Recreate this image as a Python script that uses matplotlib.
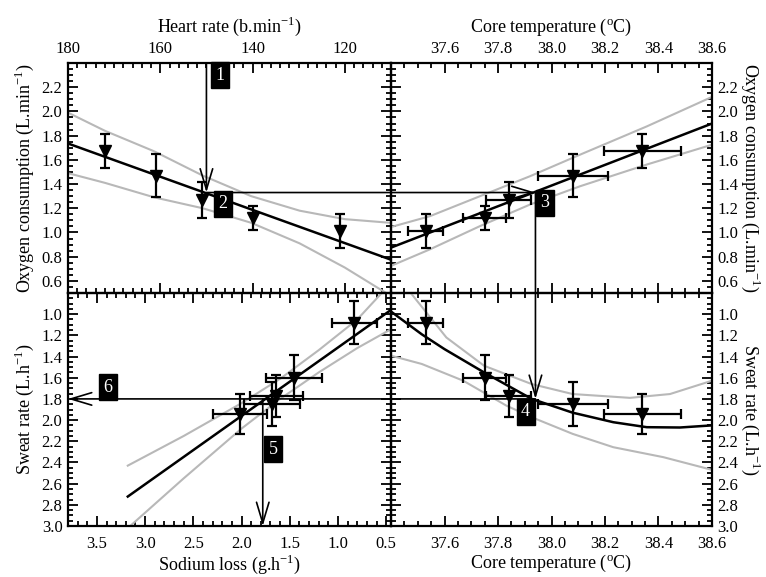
import matplotlib
matplotlib.use("Agg")
import matplotlib.pyplot as plt
from matplotlib.ticker import FixedLocator, MultipleLocator, FormatStrFormatter
from matplotlib.patches import ConnectionPatch

plt.rcParams['font.family'] = ['Liberation Serif', 'DejaVu Serif']
plt.rcParams['mathtext.fontset'] = 'custom'
plt.rcParams['mathtext.rm'] = 'Liberation Serif'

# group means (5 exercise levels)
heart_rate = [121, 140, 151, 161, 172]
vo2 = [1.01, 1.12, 1.27, 1.47, 1.67]
vo2_err = [0.14, 0.10, 0.15, 0.18, 0.14]
core_temp = [37.53, 37.75, 37.84, 38.08, 38.34]
core_temp_err = [0.065, 0.08, 0.085, 0.13, 0.145]
sweat_rate = [1.08, 1.60, 1.77, 1.85, 1.94]
sweat_err = [0.20, 0.21, 0.20, 0.21, 0.19]
sodium_loss = [0.83, 1.46, 1.64, 1.68, 2.02]
sodium_err = [0.23, 0.29, 0.275, 0.29, 0.28]

# fitted lines and confidence bands
hr_fit_x = [180, 110]
hr_fit_y = [1.735, 0.775]
hr_band_x = [180, 172, 161.3, 150.8, 140.3, 129.8, 120, 110.2]
hr_band_hi = [1.99, 1.84, 1.67, 1.47, 1.30, 1.18, 1.11, 1.08]
hr_band_lo = [1.49, 1.41, 1.29, 1.20, 1.08, 0.91, 0.71, 0.48]

tc_fit_x = [37.4, 38.6]
tc_fit_y = [0.875, 1.90]
tc_band_x = [37.4, 37.546, 37.733, 37.92, 38.107, 38.356, 38.6]
tc_band_hi = [1.045, 1.135, 1.30, 1.465, 1.643, 1.876, 2.12]
tc_band_lo = [0.724, 0.861, 1.053, 1.231, 1.382, 1.561, 1.725]

na_fit_x = [3.18, 0.46]
na_fit_y = [2.722, 0.966]
na_band_x = [3.18, 2.6, 2.0, 1.6, 1.2, 0.8, 0.546]
na_band_hi = [2.43, 2.15, 1.84, 1.61, 1.34, 1.05, 0.80]
na_band_x2 = [3.155, 2.6, 2.0, 1.6, 1.2, 0.8, 0.46]
na_band_lo = [3.0, 2.55, 2.08, 1.80, 1.55, 1.32, 1.147]

sw_fit_x = [37.4, 37.515, 37.6, 37.748, 37.926, 38.079, 38.231, 38.356, 38.48, 38.6]
sw_fit_y = [0.975, 1.19, 1.33, 1.55, 1.80, 1.93, 2.02, 2.067, 2.07, 2.05]
sw_band_x = [37.477, 37.607, 37.748, 37.926, 38.079, 38.293, 38.443, 38.6]
sw_band_hi = [0.81, 1.22, 1.487, 1.66, 1.754, 1.79, 1.754, 1.628]
sw_band_x2 = [37.4, 37.515, 37.67, 37.831, 37.926, 38.079, 38.231, 38.418, 38.6]
sw_band_lo = [1.392, 1.47, 1.628, 1.863, 1.973, 2.13, 2.256, 2.35, 2.47]

# worked example path
hr_read = 150
vo2_read = 1.33
tc_read = 37.94
sw_read = 1.80
na_read = 1.78

fig = plt.figure(figsize=(7.66, 5.77), dpi=100)
L, R, B, T = 68 / 766, 712 / 766, 1 - 526 / 577, 1 - 63 / 577
MX, MY = 391 / 766, 1 - 293 / 577
ax_tl = fig.add_axes([L, MY, MX - L, T - MY])
ax_tr = fig.add_axes([MX, MY, R - MX, T - MY])
ax_bl = fig.add_axes([L, B, MX - L, MY - B])
ax_br = fig.add_axes([MX, B, R - MX, MY - B])

grey = '#b8b8b8'
lab = 13


def style(ax):
    ax.tick_params(which='both', direction='in', top=True, bottom=True,
                   left=True, right=True, width=1.3, labelsize=12, pad=4)
    ax.tick_params(which='major', length=7)
    ax.tick_params(which='minor', length=3.5)
    for s in ax.spines.values():
        s.set_linewidth(1.6)
    ax.yaxis.set_major_formatter(FormatStrFormatter('%.1f'))


def points(ax, x, y, xerr=None, yerr=None):
    ax.errorbar(x, y, xerr=xerr, yerr=yerr, fmt='v', color='k', ms=9,
                elinewidth=1.6, capsize=3.5, capthick=1.6, zorder=5)


# top left: heart rate vs VO2
ax = ax_tl
ax.plot(hr_band_x, hr_band_hi, color=grey, lw=1.5)
ax.plot(hr_band_x, hr_band_lo, color=grey, lw=1.5)
ax.plot(hr_fit_x, hr_fit_y, color='k', lw=1.8)
points(ax, heart_rate, vo2, yerr=vo2_err)
ax.set_xlim(180, 110)
ax.set_ylim(0.5, 2.4)
style(ax)
ax.xaxis.set_major_locator(FixedLocator([180, 160, 140, 120]))
ax.xaxis.set_minor_locator(MultipleLocator(2))
ax.yaxis.set_major_locator(FixedLocator([0.6, 0.8, 1.0, 1.2, 1.4, 1.6, 1.8, 2.0, 2.2]))
ax.yaxis.set_minor_locator(MultipleLocator(0.05))
ax.tick_params(labeltop=True, labelbottom=False)
ax.xaxis.set_label_position('top')
ax.set_xlabel(r'Heart rate (b.min$^{\mathregular{-1}}$)', fontsize=lab, labelpad=7)
ax.set_ylabel(r'Oxygen consumption (L.min$^{\mathregular{-1}}$)', fontsize=lab, labelpad=4)

# top right: core temperature vs VO2
ax = ax_tr
ax.plot(tc_band_x, tc_band_hi, color=grey, lw=1.5)
ax.plot(tc_band_x, tc_band_lo, color=grey, lw=1.5)
ax.plot(tc_fit_x, tc_fit_y, color='k', lw=1.8)
points(ax, core_temp, vo2, xerr=core_temp_err, yerr=vo2_err)
ax.set_xlim(37.4, 38.6)
ax.set_ylim(0.5, 2.4)
style(ax)
ax.xaxis.set_major_locator(FixedLocator([37.6, 37.8, 38.0, 38.2, 38.4, 38.6]))
ax.xaxis.set_minor_locator(MultipleLocator(0.05))
ax.xaxis.set_major_formatter(FormatStrFormatter('%.1f'))
ax.yaxis.set_major_locator(FixedLocator([0.6, 0.8, 1.0, 1.2, 1.4, 1.6, 1.8, 2.0, 2.2]))
ax.yaxis.set_minor_locator(MultipleLocator(0.05))
ax.tick_params(labeltop=True, labelbottom=False, labelright=True, labelleft=False)
ax.xaxis.set_label_position('top')
ax.yaxis.set_label_position('right')
ax.set_xlabel(r'Core temperature ($^{\mathregular{o}}$C)', fontsize=lab, labelpad=7)
ax.set_ylabel(r'Oxygen consumption (L.min$^{\mathregular{-1}}$)', fontsize=lab,
              rotation=270, va='bottom', labelpad=0)

# bottom left: sodium loss vs sweat rate
ax = ax_bl
ax.plot(na_band_x, na_band_hi, color=grey, lw=1.5)
ax.plot(na_band_x2, na_band_lo, color=grey, lw=1.5)
ax.plot(na_fit_x, na_fit_y, color='k', lw=1.8)
points(ax, sodium_loss, sweat_rate, xerr=sodium_err, yerr=sweat_err)
ax.set_xlim(3.8, 0.45)
ax.set_ylim(3.0, 0.8)
style(ax)
ax.xaxis.set_major_locator(FixedLocator([3.5, 3.0, 2.5, 2.0, 1.5, 1.0, 0.5]))
ax.xaxis.set_minor_locator(MultipleLocator(0.1))
ax.xaxis.set_major_formatter(FormatStrFormatter('%.1f'))
ax.yaxis.set_major_locator(FixedLocator([1.0, 1.2, 1.4, 1.6, 1.8, 2.0, 2.2, 2.4, 2.6, 2.8, 3.0]))
ax.yaxis.set_minor_locator(MultipleLocator(0.05))
ax.tick_params(axis='x', pad=7)
ax.set_xlabel(r'Sodium loss (g.h$^{\mathregular{-1}}$)', fontsize=lab, labelpad=1)
ax.set_ylabel(r'Sweat rate (L.h$^{\mathregular{-1}}$)', fontsize=lab, labelpad=4)

# bottom right: core temperature vs sweat rate
ax = ax_br
ax.plot(sw_band_x, sw_band_hi, color=grey, lw=1.5)
ax.plot(sw_band_x2, sw_band_lo, color=grey, lw=1.5)
ax.plot(sw_fit_x, sw_fit_y, color='k', lw=1.8)
points(ax, core_temp, sweat_rate, xerr=core_temp_err, yerr=sweat_err)
ax.set_xlim(37.4, 38.6)
ax.set_ylim(3.0, 0.8)
style(ax)
ax.xaxis.set_major_locator(FixedLocator([37.6, 37.8, 38.0, 38.2, 38.4, 38.6]))
ax.xaxis.set_minor_locator(MultipleLocator(0.05))
ax.xaxis.set_major_formatter(FormatStrFormatter('%.1f'))
ax.yaxis.set_major_locator(FixedLocator([1.0, 1.2, 1.4, 1.6, 1.8, 2.0, 2.2, 2.4, 2.6, 2.8, 3.0]))
ax.yaxis.set_minor_locator(MultipleLocator(0.05))
ax.tick_params(labelright=True, labelleft=False)
ax.tick_params(axis='x', pad=7)
ax.yaxis.set_label_position('right')
ax.set_xlabel(r'Core temperature ($^{\mathregular{o}}$C)', fontsize=lab, labelpad=1)
ax.set_ylabel(r'Sweat rate (L.h$^{\mathregular{-1}}$)', fontsize=lab, rotation=270,
              va='bottom', labelpad=0)

for a in (ax_tl, ax_tr, ax_bl, ax_br):
    a.set_facecolor('none')

arrow = '->,head_length=1.5,head_width=0.45'


def link(p1, ax1, p2, ax2):
    con = ConnectionPatch(xyA=p1, coordsA=ax1.transData, xyB=p2, coordsB=ax2.transData,
                          arrowstyle=arrow, mutation_scale=10, lw=1.2, color='k',
                          shrinkA=0, shrinkB=0, zorder=10)
    fig.add_artist(con)


link((hr_read, 2.4), ax_tl, (hr_read, vo2_read), ax_tl)
link((hr_read, vo2_read), ax_tl, (tc_read, vo2_read), ax_tr)
link((tc_read, vo2_read), ax_tr, (tc_read, sw_read), ax_br)
link((tc_read, sw_read), ax_br, (3.8, sw_read), ax_bl)
link((na_read, sw_read), ax_bl, (na_read, 3.0), ax_bl)


def step_box(ax, x, y, s):
    ax.text(x, y, s, ha='center', va='center', color='white', fontsize=13,
            bbox=dict(boxstyle='square,pad=0.25', fc='k', ec='k'), zorder=12)


step_box(ax_tl, 147, 2.30, '1')
step_box(ax_tl, 146.4, 1.236, '2')
step_box(ax_tr, 37.976, 1.245, '3')
step_box(ax_br, 37.903, 1.922, '4')
step_box(ax_bl, 1.673, 2.274, '5')
step_box(ax_bl, 3.385, 1.692, '6')

fig.savefig('out.png', dpi=100)
